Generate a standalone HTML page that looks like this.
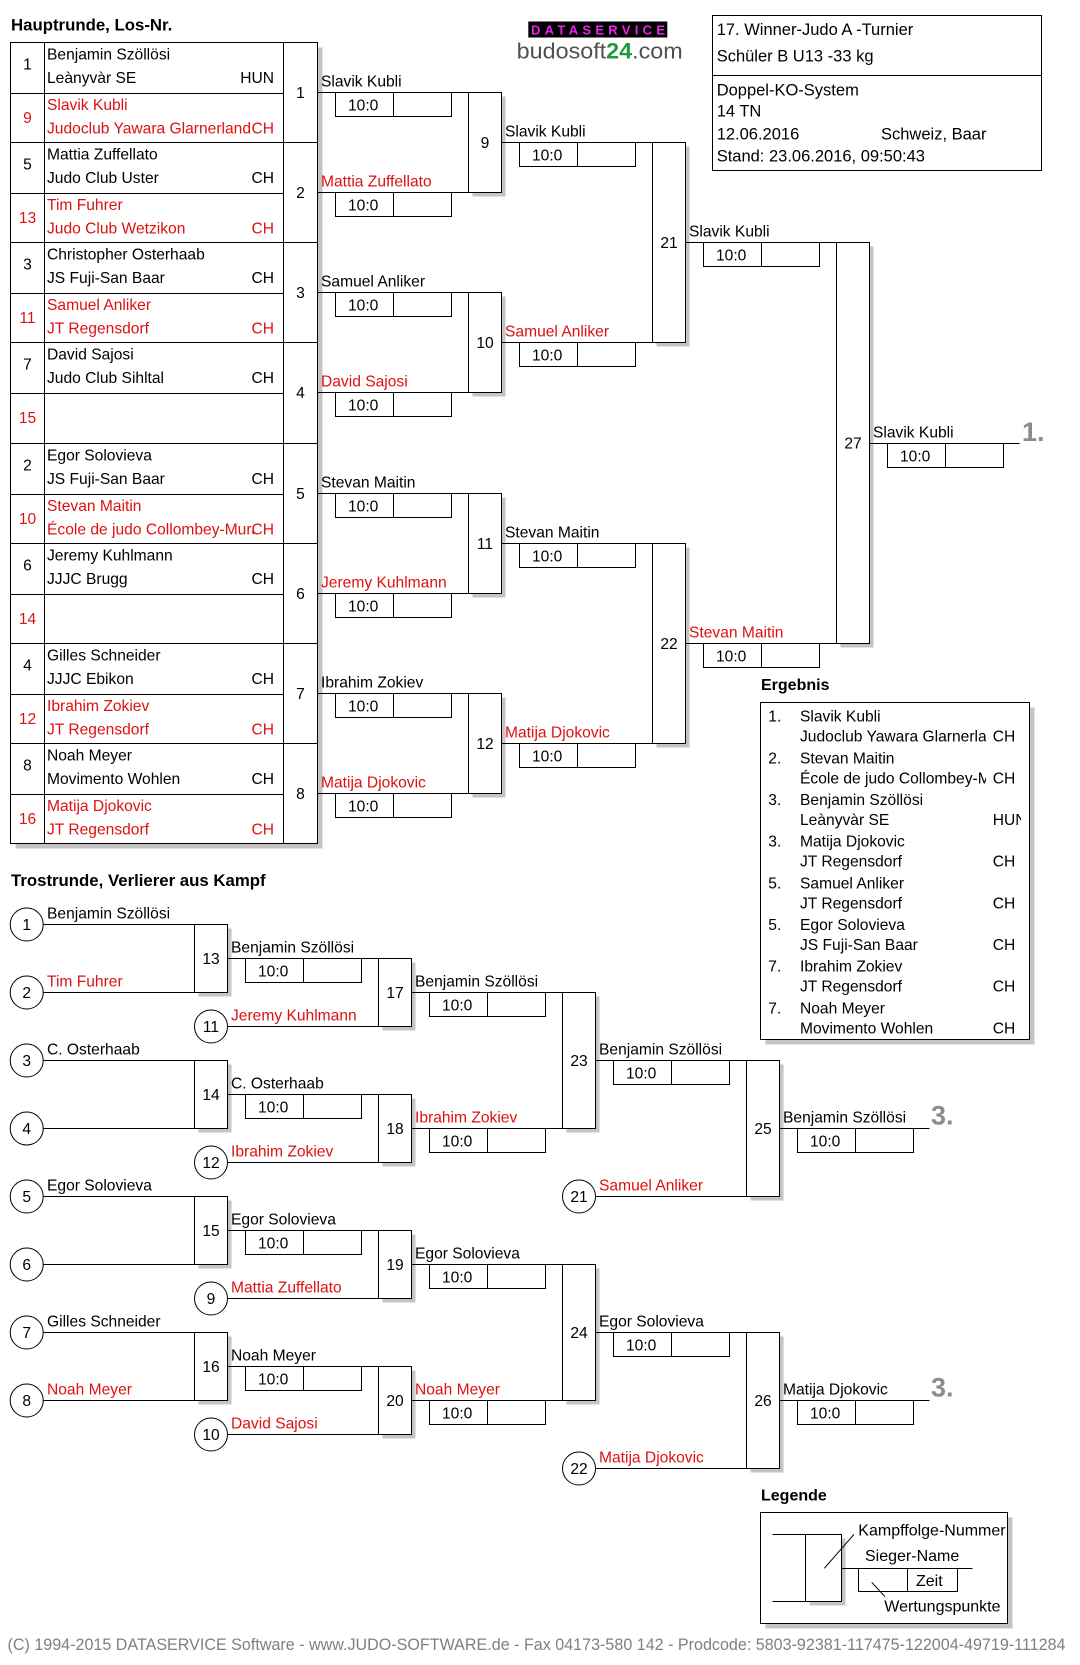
<!DOCTYPE html>
<html><head><meta charset="utf-8"><style>
html,body{margin:0;padding:0;background:#fff;}
svg{display:block;}
text{font-family:"Liberation Sans",Arial,sans-serif;font-size:15.6px;fill:#000;}
.r{fill:#dd1111;}
.b{font-weight:bold;font-size:16px;}
.bt{font-weight:bold;font-size:16.8px;}
.c{text-anchor:middle;}
.e{text-anchor:end;}
.ln{stroke:#000;stroke-width:1;fill:none;}
.bx{stroke:#000;stroke-width:1;fill:#fff;}
.sh{fill:#c4c4c4;stroke:none;}
.pl{font-weight:bold;font-size:27px;fill:#8c8c8c;}
.ib{font-size:16.5px;}
.lg{font-size:16px;}
</style></head><body>
<svg width="1080" height="1665" viewBox="0 0 1080 1665" xmlns="http://www.w3.org/2000/svg">
<defs>
<clipPath id="cA"><rect x="44" y="0" width="210" height="1665"/></clipPath>
<clipPath id="cE"><rect x="790" y="0" width="196" height="1665"/></clipPath>
<clipPath id="cN"><rect x="990" y="0" width="31" height="1665"/></clipPath>
</defs>

<!-- Titles -->
<text class="bt" x="11" y="30.5">Hauptrunde, Los-Nr.</text>
<text class="bt" x="11" y="886">Trostrunde, Verlierer aus Kampf</text>
<text class="b" x="761" y="690">Ergebnis</text>
<text class="b" x="761" y="1500.7">Legende</text>

<!-- Logo -->
<rect x="528.3" y="21.5" width="139" height="16" fill="#000"/>
<text x="531" y="34.5" textLength="134" lengthAdjust="spacing" style="font-weight:bold;font-size:13px;fill:#ee22ee;">DATASERVICE</text>
<text x="516.7" y="58.3" textLength="166" lengthAdjust="spacingAndGlyphs" style="font-size:22px;fill:#505050;">budosoft<tspan style="font-weight:bold;fill:#1e9a3c;">24</tspan>.com</text>

<!-- Info box -->
<rect class="bx" x="712.5" y="15.5" width="329" height="155"/>
<line class="ln" x1="712.5" y1="75.5" x2="1041.5" y2="75.5"/>
<text class="ib" x="716.7" y="35">17. Winner-Judo A -Turnier</text>
<text class="ib" x="716.7" y="61.5">Schüler B U13 -33 kg</text>
<text class="ib" x="716.7" y="95.5">Doppel-KO-System</text>
<text class="ib" x="716.7" y="116.7">14 TN</text>
<text class="ib" x="716.7" y="139.3">12.06.2016</text>
<text class="ib" x="881" y="139.3">Schweiz, Baar</text>
<text class="ib" x="716.7" y="161.7">Stand: 23.06.2016, 09:50:43</text>

<!-- Main table -->
<rect class="sh" x="15.5" y="47.5" width="307" height="801"/>
<rect class="bx" x="10.5" y="42.5" width="307" height="801"/>
<line class="ln" x1="44.5" y1="42.5" x2="44.5" y2="843.5"/>
<line class="ln" x1="283.5" y1="42.5" x2="283.5" y2="843.5"/>
<g class="ln">
<line x1="10.5" y1="142.5" x2="317.5" y2="142.5"/>
<line x1="10.5" y1="242.5" x2="317.5" y2="242.5"/>
<line x1="10.5" y1="342.5" x2="317.5" y2="342.5"/>
<line x1="10.5" y1="443.5" x2="317.5" y2="443.5"/>
<line x1="10.5" y1="543.5" x2="317.5" y2="543.5"/>
<line x1="10.5" y1="643.5" x2="317.5" y2="643.5"/>
<line x1="10.5" y1="743.5" x2="317.5" y2="743.5"/>
<line x1="10.5" y1="93.5" x2="283.5" y2="93.5"/>
<line x1="10.5" y1="193.5" x2="283.5" y2="193.5"/>
<line x1="10.5" y1="293.5" x2="283.5" y2="293.5"/>
<line x1="10.5" y1="393.5" x2="283.5" y2="393.5"/>
<line x1="10.5" y1="494.5" x2="283.5" y2="494.5"/>
<line x1="10.5" y1="594.5" x2="283.5" y2="594.5"/>
<line x1="10.5" y1="694.5" x2="283.5" y2="694.5"/>
<line x1="10.5" y1="794.5" x2="283.5" y2="794.5"/>
</g>

<!-- pair 1 -->
<text class="c" x="27.5" y="69.5">1</text>
<text x="47" y="59.5">Benjamin Szöllösi</text>
<text x="47" y="83">Leànyvàr SE</text>
<text class="e" x="274" y="83">HUN</text>
<text class="c r" x="27.5" y="123">9</text>
<text class="r" x="47" y="110.2">Slavik Kubli</text>
<text class="r" x="47" y="133.5">Judoclub Yawara Glarnerland</text>
<text class="e r" x="274" y="133.5">CH</text>
<text class="c" x="300.5" y="98">1</text>
<!-- pair 2 -->
<text class="c" x="27.5" y="169.5">5</text>
<text x="47" y="159.5">Mattia Zuffellato</text>
<text x="47" y="183">Judo Club Uster</text>
<text class="e" x="274" y="183">CH</text>
<text class="c r" x="27.5" y="223">13</text>
<text class="r" x="47" y="210.2">Tim Fuhrer</text>
<text class="r" x="47" y="233.5">Judo Club Wetzikon</text>
<text class="e r" x="274" y="233.5">CH</text>
<text class="c" x="300.5" y="198">2</text>
<!-- pair 3 -->
<text class="c" x="27.5" y="269.5">3</text>
<text x="47" y="259.5">Christopher Osterhaab</text>
<text x="47" y="283">JS Fuji-San Baar</text>
<text class="e" x="274" y="283">CH</text>
<text class="c r" x="27.5" y="323">11</text>
<text class="r" x="47" y="310.2">Samuel Anliker</text>
<text class="r" x="47" y="333.5">JT Regensdorf</text>
<text class="e r" x="274" y="333.5">CH</text>
<text class="c" x="300.5" y="298">3</text>
<!-- pair 4 -->
<text class="c" x="27.5" y="369.5">7</text>
<text x="47" y="359.5">David Sajosi</text>
<text x="47" y="383">Judo Club Sihltal</text>
<text class="e" x="274" y="383">CH</text>
<text class="c r" x="27.5" y="423">15</text>
<text class="c" x="300.5" y="398">4</text>
<!-- pair 5 -->
<text class="c" x="27.5" y="470.5">2</text>
<text x="47" y="460.5">Egor Solovieva</text>
<text x="47" y="484">JS Fuji-San Baar</text>
<text class="e" x="274" y="484">CH</text>
<text class="c r" x="27.5" y="524">10</text>
<text class="r" x="47" y="511.2">Stevan Maitin</text>
<text class="r" x="47" y="534.5" clip-path="url(#cA)">École de judo Collombey-Muraz</text>
<text class="e r" x="274" y="534.5">CH</text>
<text class="c" x="300.5" y="499">5</text>
<!-- pair 6 -->
<text class="c" x="27.5" y="570.5">6</text>
<text x="47" y="560.5">Jeremy Kuhlmann</text>
<text x="47" y="584">JJJC Brugg</text>
<text class="e" x="274" y="584">CH</text>
<text class="c r" x="27.5" y="624">14</text>
<text class="c" x="300.5" y="599">6</text>
<!-- pair 7 -->
<text class="c" x="27.5" y="670.5">4</text>
<text x="47" y="660.5">Gilles Schneider</text>
<text x="47" y="684">JJJC Ebikon</text>
<text class="e" x="274" y="684">CH</text>
<text class="c r" x="27.5" y="724">12</text>
<text class="r" x="47" y="711.2">Ibrahim Zokiev</text>
<text class="r" x="47" y="734.5">JT Regensdorf</text>
<text class="e r" x="274" y="734.5">CH</text>
<text class="c" x="300.5" y="699">7</text>
<!-- pair 8 -->
<text class="c" x="27.5" y="770.5">8</text>
<text x="47" y="760.5">Noah Meyer</text>
<text x="47" y="784">Movimento Wohlen</text>
<text class="e" x="274" y="784">CH</text>
<text class="c r" x="27.5" y="824">16</text>
<text class="r" x="47" y="811.2">Matija Djokovic</text>
<text class="r" x="47" y="834.5">JT Regensdorf</text>
<text class="e r" x="274" y="834.5">CH</text>
<text class="c" x="300.5" y="799">8</text>

<!-- Main round 1 lines -->
<g class="ln">
<line x1="317.5" y1="92.5" x2="468.5" y2="92.5"/>
<line x1="317.5" y1="192.5" x2="468.5" y2="192.5"/>
<line x1="317.5" y1="292.5" x2="468.5" y2="292.5"/>
<line x1="317.5" y1="392.5" x2="468.5" y2="392.5"/>
<line x1="317.5" y1="493.5" x2="468.5" y2="493.5"/>
<line x1="317.5" y1="593.5" x2="468.5" y2="593.5"/>
<line x1="317.5" y1="693.5" x2="468.5" y2="693.5"/>
<line x1="317.5" y1="793.5" x2="468.5" y2="793.5"/>
</g>
<text x="321" y="86.5">Slavik Kubli</text>
<text class="r" x="321" y="186.5">Mattia Zuffellato</text>
<text x="321" y="286.5">Samuel Anliker</text>
<text class="r" x="321" y="386.5">David Sajosi</text>
<text x="321" y="487.5">Stevan Maitin</text>
<text class="r" x="321" y="587.5">Jeremy Kuhlmann</text>
<text x="321" y="687.5">Ibrahim Zokiev</text>
<text class="r" x="321" y="787.5">Matija Djokovic</text>
<g class="ln">
<rect x="335.5" y="92.5" width="116" height="24"/><line x1="393.5" y1="92.5" x2="393.5" y2="116.5"/>
<rect x="335.5" y="192.5" width="116" height="24"/><line x1="393.5" y1="192.5" x2="393.5" y2="216.5"/>
<rect x="335.5" y="292.5" width="116" height="24"/><line x1="393.5" y1="292.5" x2="393.5" y2="316.5"/>
<rect x="335.5" y="392.5" width="116" height="24"/><line x1="393.5" y1="392.5" x2="393.5" y2="416.5"/>
<rect x="335.5" y="493.5" width="116" height="24"/><line x1="393.5" y1="493.5" x2="393.5" y2="517.5"/>
<rect x="335.5" y="593.5" width="116" height="24"/><line x1="393.5" y1="593.5" x2="393.5" y2="617.5"/>
<rect x="335.5" y="693.5" width="116" height="24"/><line x1="393.5" y1="693.5" x2="393.5" y2="717.5"/>
<rect x="335.5" y="793.5" width="116" height="24"/><line x1="393.5" y1="793.5" x2="393.5" y2="817.5"/>
</g>
<text x="348" y="110.5">10:0</text>
<text x="348" y="210.5">10:0</text>
<text x="348" y="310.5">10:0</text>
<text x="348" y="410.5">10:0</text>
<text x="348" y="511.5">10:0</text>
<text x="348" y="611.5">10:0</text>
<text x="348" y="711.5">10:0</text>
<text x="348" y="811.5">10:0</text>

<!-- Main round 2 boxes -->
<rect class="sh" x="472.5" y="96.5" width="33" height="100"/>
<rect class="bx" x="468.5" y="92.5" width="33" height="100"/>
<text class="c" x="485" y="148">9</text>
<rect class="sh" x="472.5" y="296.5" width="33" height="100"/>
<rect class="bx" x="468.5" y="292.5" width="33" height="100"/>
<text class="c" x="485" y="348">10</text>
<rect class="sh" x="472.5" y="497.5" width="33" height="100"/>
<rect class="bx" x="468.5" y="493.5" width="33" height="100"/>
<text class="c" x="485" y="549">11</text>
<rect class="sh" x="472.5" y="697.5" width="33" height="100"/>
<rect class="bx" x="468.5" y="693.5" width="33" height="100"/>
<text class="c" x="485" y="749">12</text>

<g class="ln">
<line x1="501.5" y1="142.5" x2="652.5" y2="142.5"/>
<line x1="501.5" y1="342.5" x2="652.5" y2="342.5"/>
<line x1="501.5" y1="543.5" x2="652.5" y2="543.5"/>
<line x1="501.5" y1="743.5" x2="652.5" y2="743.5"/>
<rect x="519.5" y="142.5" width="116" height="24"/><line x1="577.5" y1="142.5" x2="577.5" y2="166.5"/>
<rect x="519.5" y="342.5" width="116" height="24"/><line x1="577.5" y1="342.5" x2="577.5" y2="366.5"/>
<rect x="519.5" y="543.5" width="116" height="24"/><line x1="577.5" y1="543.5" x2="577.5" y2="567.5"/>
<rect x="519.5" y="743.5" width="116" height="24"/><line x1="577.5" y1="743.5" x2="577.5" y2="767.5"/>
</g>
<text x="505" y="136.5">Slavik Kubli</text>
<text class="r" x="505" y="336.5">Samuel Anliker</text>
<text x="505" y="537.5">Stevan Maitin</text>
<text class="r" x="505" y="737.5">Matija Djokovic</text>
<text x="532" y="160.5">10:0</text>
<text x="532" y="360.5">10:0</text>
<text x="532" y="561.5">10:0</text>
<text x="532" y="761.5">10:0</text>

<!-- Main round 3 -->
<rect class="sh" x="656.5" y="146.5" width="33" height="200"/>
<rect class="bx" x="652.5" y="142.5" width="33" height="200"/>
<text class="c" x="669" y="248">21</text>
<rect class="sh" x="656.5" y="547.5" width="33" height="200"/>
<rect class="bx" x="652.5" y="543.5" width="33" height="200"/>
<text class="c" x="669" y="649">22</text>
<g class="ln">
<line x1="685.5" y1="242.5" x2="836.5" y2="242.5"/>
<line x1="685.5" y1="643.5" x2="836.5" y2="643.5"/>
<rect x="703.5" y="242.5" width="116" height="24"/><line x1="761.5" y1="242.5" x2="761.5" y2="266.5"/>
<rect x="703.5" y="643.5" width="116" height="24"/><line x1="761.5" y1="643.5" x2="761.5" y2="667.5"/>
</g>
<text x="689" y="236.5">Slavik Kubli</text>
<text class="r" x="689" y="637.5">Stevan Maitin</text>
<text x="716" y="260.5">10:0</text>
<text x="716" y="661.5">10:0</text>

<!-- Final -->
<rect class="sh" x="840.5" y="246.5" width="33" height="401"/>
<rect class="bx" x="836.5" y="242.5" width="33" height="401"/>
<text class="c" x="853" y="448.5">27</text>
<g class="ln">
<line x1="869.5" y1="443.5" x2="1019.5" y2="443.5"/>
<rect x="887.5" y="443.5" width="116" height="24"/><line x1="945.5" y1="443.5" x2="945.5" y2="467.5"/>
</g>
<text x="873" y="437.5">Slavik Kubli</text>
<text x="900" y="461.5">10:0</text>
<text class="pl" x="1022" y="441">1.</text>

<!-- Ergebnis -->
<rect class="sh" x="765.5" y="707.5" width="269" height="337"/>
<rect class="bx" x="760.5" y="702.5" width="269" height="337"/>
<text x="768.3" y="721.7">1.</text><text x="800" y="721.7">Slavik Kubli</text>
<text x="800" y="741.7" clip-path="url(#cE)">Judoclub Yawara Glarnerland</text><text x="992.7" y="741.7">CH</text>
<text x="768.3" y="763.4">2.</text><text x="800" y="763.4">Stevan Maitin</text>
<text x="800" y="783.4" clip-path="url(#cE)">École de judo Collombey-Muraz</text><text x="992.7" y="783.4">CH</text>
<text x="768.3" y="805">3.</text><text x="800" y="805">Benjamin Szöllösi</text>
<text x="800" y="825" clip-path="url(#cE)">Leànyvàr SE</text><text x="992.7" y="825" clip-path="url(#cN)">HUN</text>
<text x="768.3" y="846.7">3.</text><text x="800" y="846.7">Matija Djokovic</text>
<text x="800" y="866.7">JT Regensdorf</text><text x="992.7" y="866.7">CH</text>
<text x="768.3" y="888.4">5.</text><text x="800" y="888.4">Samuel Anliker</text>
<text x="800" y="908.4">JT Regensdorf</text><text x="992.7" y="908.4">CH</text>
<text x="768.3" y="930">5.</text><text x="800" y="930">Egor Solovieva</text>
<text x="800" y="950">JS Fuji-San Baar</text><text x="992.7" y="950">CH</text>
<text x="768.3" y="971.7">7.</text><text x="800" y="971.7">Ibrahim Zokiev</text>
<text x="800" y="991.7">JT Regensdorf</text><text x="992.7" y="991.7">CH</text>
<text x="768.3" y="1013.4">7.</text><text x="800" y="1013.4">Noah Meyer</text>
<text x="800" y="1033.4">Movimento Wohlen</text><text x="992.7" y="1033.4">CH</text>

<!-- Trostrunde: column A circles -->
<g class="ln">
<circle cx="26.7" cy="924.5" r="16.5"/>
<circle cx="26.7" cy="992.5" r="16.5"/>
<circle cx="26.7" cy="1060.5" r="16.5"/>
<circle cx="26.7" cy="1128.5" r="16.5"/>
<circle cx="26.7" cy="1196.5" r="16.5"/>
<circle cx="26.7" cy="1264.5" r="16.5"/>
<circle cx="26.7" cy="1332.5" r="16.5"/>
<circle cx="26.7" cy="1400.5" r="16.5"/>
<line x1="43.2" y1="924.5" x2="194.5" y2="924.5"/>
<line x1="43.2" y1="992.5" x2="194.5" y2="992.5"/>
<line x1="43.2" y1="1060.5" x2="194.5" y2="1060.5"/>
<line x1="43.2" y1="1128.5" x2="194.5" y2="1128.5"/>
<line x1="43.2" y1="1196.5" x2="194.5" y2="1196.5"/>
<line x1="43.2" y1="1264.5" x2="194.5" y2="1264.5"/>
<line x1="43.2" y1="1332.5" x2="194.5" y2="1332.5"/>
<line x1="43.2" y1="1400.5" x2="194.5" y2="1400.5"/>
</g>
<text class="c" x="26.7" y="930">1</text>
<text class="c" x="26.7" y="998">2</text>
<text class="c" x="26.7" y="1066">3</text>
<text class="c" x="26.7" y="1134">4</text>
<text class="c" x="26.7" y="1202">5</text>
<text class="c" x="26.7" y="1270">6</text>
<text class="c" x="26.7" y="1338">7</text>
<text class="c" x="26.7" y="1406">8</text>
<text x="47" y="918.5">Benjamin Szöllösi</text>
<text class="r" x="47" y="986.5">Tim Fuhrer</text>
<text x="47" y="1054.5">C. Osterhaab</text>
<text x="47" y="1190.5">Egor Solovieva</text>
<text x="47" y="1326.5">Gilles Schneider</text>
<text class="r" x="47" y="1394.5">Noah Meyer</text>

<!-- boxes 13-16 -->
<rect class="sh" x="198.5" y="928.5" width="33" height="68"/>
<rect class="bx" x="194.5" y="924.5" width="33" height="68"/>
<text class="c" x="211" y="964">13</text>
<rect class="sh" x="198.5" y="1064.5" width="33" height="68"/>
<rect class="bx" x="194.5" y="1060.5" width="33" height="68"/>
<text class="c" x="211" y="1100">14</text>
<rect class="sh" x="198.5" y="1200.5" width="33" height="68"/>
<rect class="bx" x="194.5" y="1196.5" width="33" height="68"/>
<text class="c" x="211" y="1236">15</text>
<rect class="sh" x="198.5" y="1336.5" width="33" height="68"/>
<rect class="bx" x="194.5" y="1332.5" width="33" height="68"/>
<text class="c" x="211" y="1372">16</text>

<g class="ln">
<line x1="227.5" y1="958.5" x2="378.5" y2="958.5"/>
<line x1="227.5" y1="1094.5" x2="378.5" y2="1094.5"/>
<line x1="227.5" y1="1230.5" x2="378.5" y2="1230.5"/>
<line x1="227.5" y1="1366.5" x2="378.5" y2="1366.5"/>
<rect x="245.5" y="958.5" width="116" height="24"/><line x1="303.5" y1="958.5" x2="303.5" y2="982.5"/>
<rect x="245.5" y="1094.5" width="116" height="24"/><line x1="303.5" y1="1094.5" x2="303.5" y2="1118.5"/>
<rect x="245.5" y="1230.5" width="116" height="24"/><line x1="303.5" y1="1230.5" x2="303.5" y2="1254.5"/>
<rect x="245.5" y="1366.5" width="116" height="24"/><line x1="303.5" y1="1366.5" x2="303.5" y2="1390.5"/>
<circle cx="211" cy="1026.5" r="16.5"/>
<circle cx="211" cy="1162.5" r="16.5"/>
<circle cx="211" cy="1298.5" r="16.5"/>
<circle cx="211" cy="1434.5" r="16.5"/>
<line x1="227.5" y1="1026.5" x2="378.5" y2="1026.5"/>
<line x1="227.5" y1="1162.5" x2="378.5" y2="1162.5"/>
<line x1="227.5" y1="1298.5" x2="378.5" y2="1298.5"/>
<line x1="227.5" y1="1434.5" x2="378.5" y2="1434.5"/>
</g>
<text x="231" y="952.5">Benjamin Szöllösi</text>
<text x="231" y="1088.5">C. Osterhaab</text>
<text x="231" y="1224.5">Egor Solovieva</text>
<text x="231" y="1360.5">Noah Meyer</text>
<text x="258" y="976.5">10:0</text>
<text x="258" y="1112.5">10:0</text>
<text x="258" y="1248.5">10:0</text>
<text x="258" y="1384.5">10:0</text>
<text class="c" x="211" y="1032">11</text>
<text class="c" x="211" y="1168">12</text>
<text class="c" x="211" y="1304">9</text>
<text class="c" x="211" y="1440">10</text>
<text class="r" x="231" y="1020.5">Jeremy Kuhlmann</text>
<text class="r" x="231" y="1156.5">Ibrahim Zokiev</text>
<text class="r" x="231" y="1292.5">Mattia Zuffellato</text>
<text class="r" x="231" y="1428.5">David Sajosi</text>

<!-- boxes 17-20 -->
<rect class="sh" x="382.5" y="962.5" width="33" height="68"/>
<rect class="bx" x="378.5" y="958.5" width="33" height="68"/>
<text class="c" x="395" y="998">17</text>
<rect class="sh" x="382.5" y="1098.5" width="33" height="68"/>
<rect class="bx" x="378.5" y="1094.5" width="33" height="68"/>
<text class="c" x="395" y="1134">18</text>
<rect class="sh" x="382.5" y="1234.5" width="33" height="68"/>
<rect class="bx" x="378.5" y="1230.5" width="33" height="68"/>
<text class="c" x="395" y="1270">19</text>
<rect class="sh" x="382.5" y="1370.5" width="33" height="68"/>
<rect class="bx" x="378.5" y="1366.5" width="33" height="68"/>
<text class="c" x="395" y="1406">20</text>

<g class="ln">
<line x1="411.5" y1="992.5" x2="562.5" y2="992.5"/>
<line x1="411.5" y1="1128.5" x2="562.5" y2="1128.5"/>
<line x1="411.5" y1="1264.5" x2="562.5" y2="1264.5"/>
<line x1="411.5" y1="1400.5" x2="562.5" y2="1400.5"/>
<rect x="429.5" y="992.5" width="116" height="24"/><line x1="487.5" y1="992.5" x2="487.5" y2="1016.5"/>
<rect x="429.5" y="1128.5" width="116" height="24"/><line x1="487.5" y1="1128.5" x2="487.5" y2="1152.5"/>
<rect x="429.5" y="1264.5" width="116" height="24"/><line x1="487.5" y1="1264.5" x2="487.5" y2="1288.5"/>
<rect x="429.5" y="1400.5" width="116" height="24"/><line x1="487.5" y1="1400.5" x2="487.5" y2="1424.5"/>
</g>
<text x="415" y="986.5">Benjamin Szöllösi</text>
<text class="r" x="415" y="1122.5">Ibrahim Zokiev</text>
<text x="415" y="1258.5">Egor Solovieva</text>
<text class="r" x="415" y="1394.5">Noah Meyer</text>
<text x="442" y="1010.5">10:0</text>
<text x="442" y="1146.5">10:0</text>
<text x="442" y="1282.5">10:0</text>
<text x="442" y="1418.5">10:0</text>

<!-- boxes 23, 24 -->
<rect class="sh" x="566.5" y="996.5" width="33" height="136"/>
<rect class="bx" x="562.5" y="992.5" width="33" height="136"/>
<text class="c" x="579" y="1066">23</text>
<rect class="sh" x="566.5" y="1268.5" width="33" height="136"/>
<rect class="bx" x="562.5" y="1264.5" width="33" height="136"/>
<text class="c" x="579" y="1338">24</text>

<g class="ln">
<line x1="595.5" y1="1060.5" x2="746.5" y2="1060.5"/>
<line x1="595.5" y1="1332.5" x2="746.5" y2="1332.5"/>
<rect x="613.5" y="1060.5" width="116" height="24"/><line x1="671.5" y1="1060.5" x2="671.5" y2="1084.5"/>
<rect x="613.5" y="1332.5" width="116" height="24"/><line x1="671.5" y1="1332.5" x2="671.5" y2="1356.5"/>
<circle cx="579" cy="1196.5" r="16.5"/>
<circle cx="579" cy="1468.5" r="16.5"/>
<line x1="595.5" y1="1196.5" x2="746.5" y2="1196.5"/>
<line x1="595.5" y1="1468.5" x2="746.5" y2="1468.5"/>
</g>
<text x="599" y="1054.5">Benjamin Szöllösi</text>
<text x="599" y="1326.5">Egor Solovieva</text>
<text x="626" y="1078.5">10:0</text>
<text x="626" y="1350.5">10:0</text>
<text class="c" x="579" y="1202">21</text>
<text class="c" x="579" y="1474">22</text>
<text class="r" x="599" y="1190.5">Samuel Anliker</text>
<text class="r" x="599" y="1462.5">Matija Djokovic</text>

<!-- boxes 25, 26 -->
<rect class="sh" x="750.5" y="1064.5" width="33" height="136"/>
<rect class="bx" x="746.5" y="1060.5" width="33" height="136"/>
<text class="c" x="763" y="1134">25</text>
<rect class="sh" x="750.5" y="1336.5" width="33" height="136"/>
<rect class="bx" x="746.5" y="1332.5" width="33" height="136"/>
<text class="c" x="763" y="1406">26</text>

<g class="ln">
<line x1="779.5" y1="1128.5" x2="929.5" y2="1128.5"/>
<line x1="779.5" y1="1400.5" x2="929.5" y2="1400.5"/>
<rect x="797.5" y="1128.5" width="116" height="24"/><line x1="855.5" y1="1128.5" x2="855.5" y2="1152.5"/>
<rect x="797.5" y="1400.5" width="116" height="24"/><line x1="855.5" y1="1400.5" x2="855.5" y2="1424.5"/>
</g>
<text x="783" y="1122.5">Benjamin Szöllösi</text>
<text x="783" y="1394.5">Matija Djokovic</text>
<text x="810" y="1146.5">10:0</text>
<text x="810" y="1418.5">10:0</text>
<text class="pl" x="931" y="1124.5">3.</text>
<text class="pl" x="931" y="1396.5">3.</text>

<!-- Legende -->
<rect class="sh" x="765.5" y="1517.5" width="247" height="111"/>
<rect class="bx" x="760.5" y="1512.5" width="247" height="111"/>
<g class="ln">
<line x1="772.5" y1="1534.5" x2="805.5" y2="1534.5"/>
<line x1="772.5" y1="1601.5" x2="805.5" y2="1601.5"/>
</g>
<rect class="sh" x="809.5" y="1538.5" width="36" height="67"/>
<rect class="bx" x="805.5" y="1534.5" width="36" height="67"/>
<g class="ln">
<line x1="841.5" y1="1568.5" x2="972.5" y2="1568.5"/>
<rect x="858.5" y="1568.5" width="99" height="23"/>
<line x1="907.5" y1="1568.5" x2="907.5" y2="1591.5"/>
<line x1="824.3" y1="1568.3" x2="854" y2="1534.3"/>
<line x1="871.7" y1="1582.3" x2="885" y2="1596.7"/>
</g>
<text class="lg" x="858.3" y="1535.7">Kampffolge-Nummer</text>
<text class="lg" x="865" y="1561">Sieger-Name</text>
<text class="lg" x="916" y="1586">Zeit</text>
<text class="lg" x="884.3" y="1611.7">Wertungspunkte</text>

<!-- Footer -->
<text x="7.5" y="1650" textLength="1058" lengthAdjust="spacingAndGlyphs" style="font-size:16.5px;fill:#808080;">(C) 1994-2015 DATASERVICE Software - www.JUDO-SOFTWARE.de - Fax 04173-580 142 - Prodcode: 5803-92381-117475-122004-49719-111284</text>
</svg>
</body></html>
